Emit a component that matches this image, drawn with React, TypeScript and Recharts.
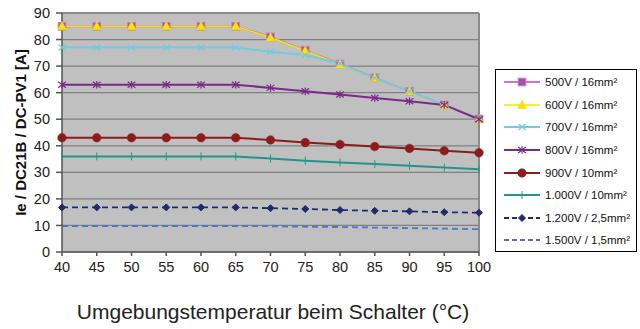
import React from 'react';
import { LineChart, Line, XAxis, YAxis, CartesianGrid, ReferenceLine } from 'recharts';

const temps = [40, 45, 50, 55, 60, 65, 70, 75, 80, 85, 90, 95, 100];
const s500 = [85, 85, 85, 85, 85, 85, 81, 76, 70.8, 65.6, 60.5, 55.4, 50.1];
const s600 = [85, 85, 85, 85, 85, 85, 80.8, 75.8, 70.6, 65.5, 60.4, 55.3, 50];
const s700 = [77, 77, 77, 77, 77, 77, 75.4, 74.2, 71, 65.5, 60.5, 55.4, 50];
const s800 = [63, 63, 63, 63, 63, 63, 61.8, 60.5, 59.3, 58, 56.8, 55.4, 50];
const s900 = [43, 43, 43, 43, 43, 43, 42.2, 41.2, 40.5, 39.7, 39, 38.1, 37.4];
const s1000 = [36, 36, 36, 36, 36, 36, 35.2, 34.4, 33.7, 33.1, 32.5, 31.8, 31.2];
const s1200 = [16.8, 16.8, 16.8, 16.8, 16.8, 16.8, 16.5, 16.2, 15.8, 15.5, 15.3, 15, 14.8];
const s1500 = [9.8, 9.8, 9.8, 9.8, 9.8, 9.8, 9.7, 9.5, 9.4, 9.2, 9.0, 8.8, 8.6];
const yTicks = [0, 10, 20, 30, 40, 50, 60, 70, 80, 90];
const xTicks = [40, 45, 50, 55, 60, 65, 70, 75, 80, 85, 90, 95, 100];

const seriesNames = [
  '500V / 16mm²',
  '600V / 16mm²',
  '700V / 16mm²',
  '800V / 16mm²',
  '900V / 10mm²',
  '1.000V / 10mm²',
  '1.200V / 2,5mm²',
  '1.500V / 1,5mm²',
];

const data = temps.map((t, i) => ({
  t,
  a: s500[i],
  b: s600[i],
  c: s700[i],
  d: s800[i],
  e: s900[i],
  f: s1000[i],
  g: s1200[i],
  h: s1500[i],
}));

type Shape = 'square' | 'triangle' | 'x' | 'star' | 'circle' | 'plus' | 'diamond' | 'none';

function marker(shape: Shape, cx: number, cy: number, color: string, fill: string, key?: any) {
  switch (shape) {
    case 'square':
      return <rect key={key} x={cx - 3.8} y={cy - 3.8} width={7.6} height={7.6} fill={fill} stroke={color} strokeWidth={1} />;
    case 'triangle':
      return <polygon key={key} points={`${cx},${cy - 4.8} ${cx + 4.5},${cy + 3.5} ${cx - 4.5},${cy + 3.5}`} fill={fill} stroke={fill} strokeWidth={0.5} />;
    case 'x':
      return (
        <g key={key} stroke={color} strokeWidth={1.2}>
          <line x1={cx - 3.5} y1={cy - 3} x2={cx + 3.5} y2={cy + 3} />
          <line x1={cx - 3.5} y1={cy + 3} x2={cx + 3.5} y2={cy - 3} />
        </g>
      );
    case 'star':
      return (
        <g key={key} stroke={color} strokeWidth={1.2}>
          <line x1={cx - 3.8} y1={cy - 3} x2={cx + 3.8} y2={cy + 3} />
          <line x1={cx - 3.8} y1={cy + 3} x2={cx + 3.8} y2={cy - 3} />
          <line x1={cx} y1={cy - 3.8} x2={cx} y2={cy + 3.8} />
        </g>
      );
    case 'circle':
      return <circle key={key} cx={cx} cy={cy} r={4.3} fill={fill} stroke={color} strokeWidth={0.5} />;
    case 'plus':
      return (
        <g key={key} stroke={color} strokeWidth={1}>
          <line x1={cx} y1={cy - 4} x2={cx} y2={cy + 4} />
        </g>
      );
    case 'diamond':
      return <polygon key={key} points={`${cx},${cy - 3.5} ${cx + 3.5},${cy} ${cx},${cy + 3.5} ${cx - 3.5},${cy}`} fill={fill} stroke={fill} />;
    default:
      return <g key={key} />;
  }
}

const styles: { key: string; color: string; fill: string; shape: Shape; width: number; dash?: string }[] = [
  { key: 'a', color: '#C47ACC', fill: '#A850A8', shape: 'square', width: 2 },
  { key: 'b', color: '#F8E400', fill: '#F8E400', shape: 'triangle', width: 1.6 },
  { key: 'c', color: '#72CAE2', fill: '#72CAE2', shape: 'x', width: 2 },
  { key: 'd', color: '#7A2A88', fill: '#7A2A88', shape: 'star', width: 2 },
  { key: 'e', color: '#8C1C1C', fill: '#8C1C1C', shape: 'circle', width: 2 },
  { key: 'f', color: '#22968E', fill: '#22968E', shape: 'plus', width: 2 },
  { key: 'g', color: '#1F2B6E', fill: '#1F2B6E', shape: 'diamond', width: 1.8, dash: '6 4' },
  { key: 'h', color: '#4A78C8', fill: '#4A78C8', shape: 'none', width: 1.8, dash: '6 4' },
];

const FONT = '"Liberation Sans", Arial, sans-serif';

function LegendBox() {
  return (
    <div
      style={{
        position: 'absolute',
        left: 495,
        top: 69,
        border: '1px solid #000',
        background: '#fff',
        width: 142,
        height: 183,
        boxSizing: 'border-box',
        paddingTop: 1,
        fontFamily: FONT,
        fontSize: 11.5,
        color: '#111',
      }}
    >
      {styles.map((s, i) => (
        <div key={s.key} style={{ display: 'flex', alignItems: 'center', height: 22.6 }}>
          <svg width={40} height={12} style={{ marginLeft: 6, marginRight: 3, flex: 'none' }}>
            <line x1={2} y1={6} x2={38} y2={6} stroke={s.color} strokeWidth={s.width} strokeDasharray={s.dash ? '5 3' : undefined} />
            {marker(s.shape, 20, 6, s.color, s.fill)}
          </svg>
          <span style={{ whiteSpace: 'nowrap' }}>{seriesNames[i]}</span>
        </div>
      ))}
    </div>
  );
}

function YTitle() {
  return (
    <text
      x={20}
      y={132.5}
      transform="rotate(-90 20 132.5)"
      textAnchor="middle"
      dominantBaseline="central"
      fontFamily={FONT}
      fontSize={15}
      fontWeight="bold"
      fill="#111"
    >
      Ie / DC21B / DC-PV1 [A]
    </text>
  );
}

function XTitle() {
  return (
    <text x={273} y={318.5} textAnchor="middle" fontFamily={FONT} fontSize={21} fill="#222">
      Umgebungstemperatur beim Schalter (°C)
    </text>
  );
}

export default function App() {
  return (
    <div style={{ position: 'absolute', left: 0, top: 0, width: 640, height: 329, background: '#fff' }}>
      <LineChart width={640} height={329} data={data} margin={{ top: 13, right: 161, bottom: 0, left: 0 }}>
        <CartesianGrid horizontal vertical={false} fill="#C0C0C0" stroke="#808080" strokeWidth={1.2} />
        <XAxis
          dataKey="t"
          type="number"
          domain={[40, 100]}
          ticks={xTicks}
          height={77}
          tickSize={4}
          tickMargin={6}
          stroke="#555"
          strokeWidth={1.5}
          tick={{ fill: '#222', fontSize: 14.5, fontFamily: FONT }}
          label={<XTitle />}
        />
        <YAxis
          type="number"
          domain={[0, 90]}
          ticks={yTicks}
          width={62}
          tickSize={6}
          tickMargin={6}
          stroke="#555"
          strokeWidth={1.5}
          tick={{ fill: '#222', fontSize: 14.5, fontFamily: FONT }}
          label={<YTitle />}
        />
        <ReferenceLine x={100} stroke="#8a8a8a" strokeWidth={2} />
        <ReferenceLine y={90} stroke="#8a8a8a" strokeWidth={2} />
        {styles.map((s, i) => (
          <Line
            key={s.key}
            dataKey={s.key}
            name={seriesNames[i]}
            type="linear"
            stroke={s.color}
            strokeWidth={s.width}
            strokeDasharray={s.dash}
            isAnimationActive={false}
            dot={(p: any) => marker(s.shape, p.cx, p.cy, s.color, s.fill, p.key ?? `${s.key}-${p.index}`)}
            activeDot={false}
          />
        ))}
      </LineChart>
      <LegendBox />
    </div>
  );
}
